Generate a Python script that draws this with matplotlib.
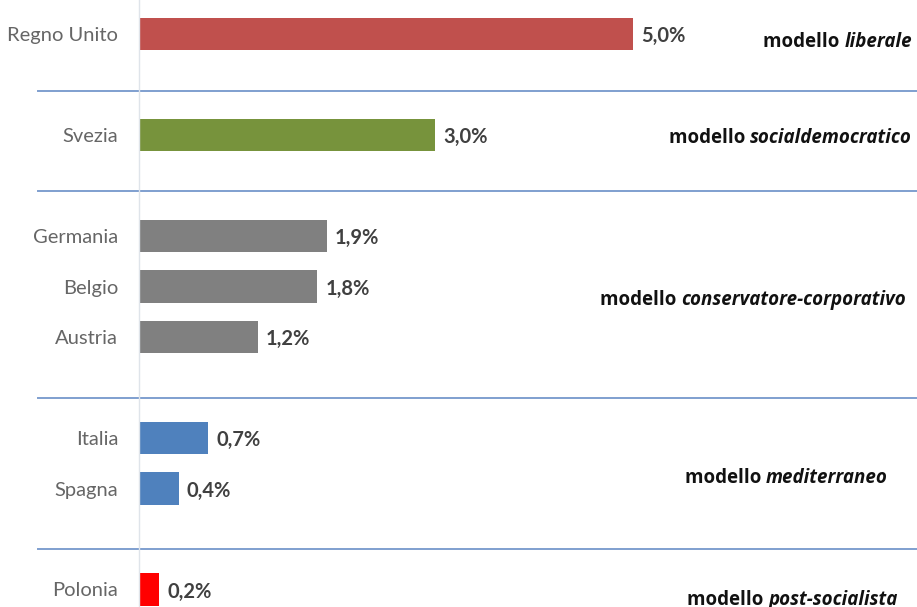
import matplotlib.pyplot as plt
import matplotlib.transforms as mtransforms

# Paesi, valori e colori (slot verticali: gli slot vuoti separano i gruppi)
paesi = ["Regno Unito", "Svezia", "Germania", "Belgio", "Austria", "Italia", "Spagna", "Polonia"]
valori = [5.0, 3.0, 1.9, 1.8, 1.2, 0.7, 0.4, 0.2]
slot = [0, 2, 4, 5, 6, 8, 9, 11]
colori = ["#c0504d", "#77933c", "#808080", "#808080", "#808080",
          "#4f81bd", "#4f81bd", "#ff0000"]

# Modelli di welfare: nome in corsivo, posizione verticale (slot) e bordo destro (px)
modelli = ["liberale", "socialdemocratico", "conservatore-corporativo",
           "mediterraneo", "post-socialista"]
modelli_y = [0.16, 2.06, 5.26, 8.8, 11.2]
modelli_x = [912, 912, 906, 888, 898]
separatori = [1.13, 3.1, 7.2, 10.2]

W, H = 917, 607
fig = plt.figure(figsize=(W / 100, H / 100), dpi=100)
ax = fig.add_axes([139 / W, 0, 1 - 139 / W, 1])

ax.barh(slot, valori, height=0.65, color=colori)
ax.set_xlim(0, (W - 139) / 98.8)
ax.set_ylim((H - 34) / 50.5, -34 / 50.5)

for s in ["top", "right", "bottom"]:
    ax.spines[s].set_visible(False)
ax.spines["left"].set_color("#dfe4ea")
ax.spines["left"].set_linewidth(1)
ax.set_xticks([])
ax.set_yticks(slot)
ax.set_yticklabels(paesi, fontsize=14.5, color="#666666", family="Lato")
ax.tick_params(axis="y", length=0, pad=15)

# etichette dei valori
for s, v in zip(slot, valori):
    ax.annotate(f"{v:.1f}%".replace(".", ","), xy=(v, s), xytext=(6, -1.5),
                textcoords="offset points", va="center", ha="left",
                fontsize=14.5, fontweight="bold", color="#404040", family="Lato")

# linee di separazione tra i gruppi
trans = mtransforms.blended_transform_factory(fig.transFigure, ax.transData)
for y in separatori:
    ax.plot([38 / W, 1], [y, y], transform=trans, color="#7f9fcf",
            lw=1.4, clip_on=False)

# nomi dei modelli
for nome, y, xr in zip(modelli, modelli_y, modelli_x):
    t = ax.text(xr / W, y, nome, transform=trans, ha="right", va="center",
                fontsize=13.5, fontweight="bold", style="italic",
                color="#111111", family="Open Sans")
    ax.annotate("modello ", xy=(0, 0.5), xycoords=t, ha="right", va="center",
                fontsize=13.5, fontweight="bold", color="#111111", family="Open Sans")

fig.savefig("out.png", dpi=100)
